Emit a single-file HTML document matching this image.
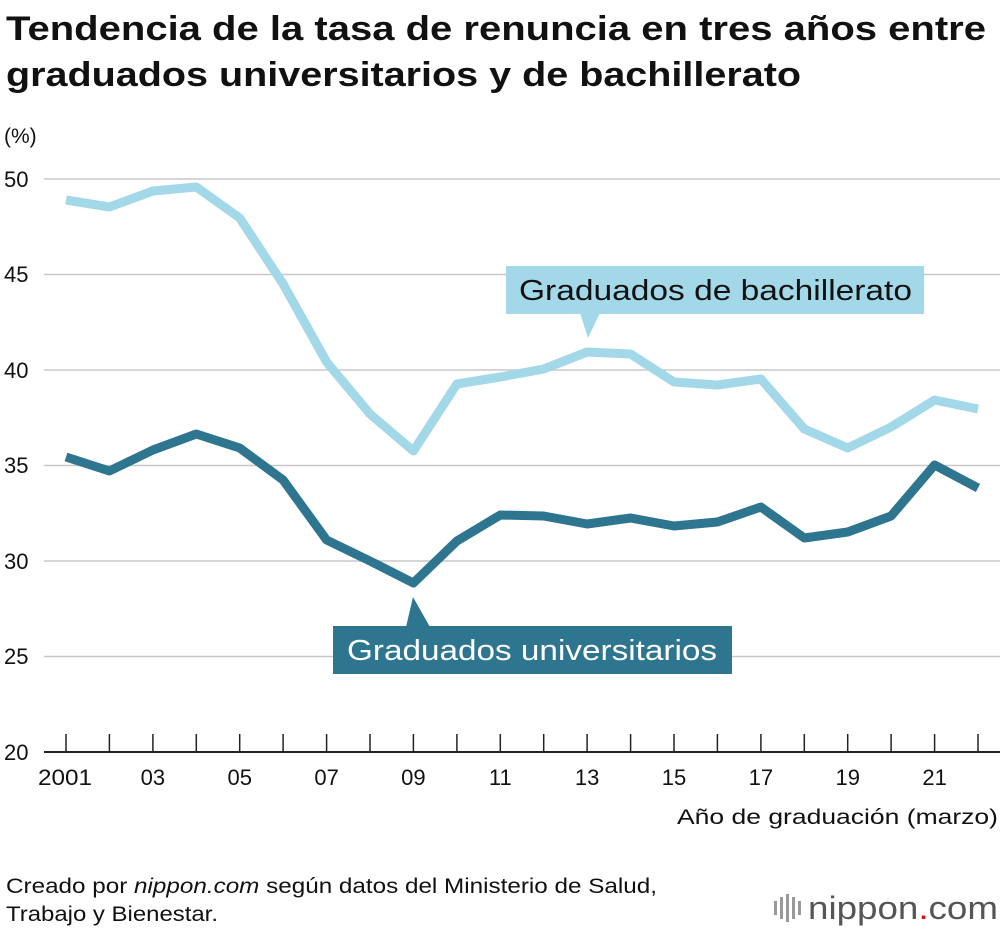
<!DOCTYPE html>
<html><head><meta charset="utf-8"><style>
body{margin:0;background:#fff;font-family:"Liberation Sans",Arial,sans-serif}
</style></head><body>
<svg width="1000" height="930" xmlns="http://www.w3.org/2000/svg" font-family="Liberation Sans, Arial, sans-serif">
<text x="6" y="40" font-size="34" font-weight="bold" fill="#111" textLength="980" lengthAdjust="spacingAndGlyphs">Tendencia de la tasa de renuncia en tres años entre</text>
<text x="6" y="86" font-size="34" font-weight="bold" fill="#111" textLength="795" lengthAdjust="spacingAndGlyphs">graduados universitarios y de bachillerato</text>
<text x="4" y="143" font-size="21" fill="#111">(%)</text>
<g stroke="#c8c8c8" stroke-width="1.5">
<line x1="44" x2="1000" y1="179" y2="179"/><line x1="44" x2="1000" y1="274.5" y2="274.5"/>
<line x1="44" x2="1000" y1="370" y2="370"/><line x1="44" x2="1000" y1="465.5" y2="465.5"/>
<line x1="44" x2="1000" y1="561" y2="561"/><line x1="44" x2="1000" y1="656.5" y2="656.5"/>
</g>
<line x1="44" x2="1000" y1="752" y2="752" stroke="#222" stroke-width="2"/>
<g stroke="#222" stroke-width="1.5">
<line x1="66" x2="66" y1="734" y2="752"/><line x1="109.4" x2="109.4" y1="734" y2="752"/><line x1="152.9" x2="152.9" y1="734" y2="752"/><line x1="196.3" x2="196.3" y1="734" y2="752"/><line x1="239.7" x2="239.7" y1="734" y2="752"/><line x1="283.1" x2="283.1" y1="734" y2="752"/><line x1="326.6" x2="326.6" y1="734" y2="752"/><line x1="370" x2="370" y1="734" y2="752"/><line x1="413.4" x2="413.4" y1="734" y2="752"/><line x1="456.9" x2="456.9" y1="734" y2="752"/><line x1="500.3" x2="500.3" y1="734" y2="752"/><line x1="543.7" x2="543.7" y1="734" y2="752"/><line x1="587.1" x2="587.1" y1="734" y2="752"/><line x1="630.6" x2="630.6" y1="734" y2="752"/><line x1="674" x2="674" y1="734" y2="752"/><line x1="717.4" x2="717.4" y1="734" y2="752"/><line x1="760.9" x2="760.9" y1="734" y2="752"/><line x1="804.3" x2="804.3" y1="734" y2="752"/><line x1="847.7" x2="847.7" y1="734" y2="752"/><line x1="891.1" x2="891.1" y1="734" y2="752"/><line x1="934.6" x2="934.6" y1="734" y2="752"/><line x1="978" x2="978" y1="734" y2="752"/>
</g>
<g font-size="22" fill="#111">
<text x="4" y="187">50</text><text x="4" y="282">45</text><text x="4" y="378">40</text><text x="4" y="473">35</text><text x="4" y="569">30</text><text x="4" y="664">25</text><text x="4" y="760">20</text>
</g>
<g font-size="22" fill="#111" text-anchor="middle">
<text x="65" y="785" textLength="54" lengthAdjust="spacingAndGlyphs">2001</text><text x="152.9" y="785">03</text><text x="239.7" y="785">05</text><text x="326.6" y="785">07</text><text x="413.4" y="785">09</text><text x="500.3" y="785">11</text><text x="587.1" y="785">13</text><text x="674" y="785">15</text><text x="760.9" y="785">17</text><text x="847.7" y="785">19</text><text x="934.6" y="785">21</text>
</g>
<text x="677" y="824" font-size="21" fill="#111" textLength="321" lengthAdjust="spacingAndGlyphs">Año de graduación (marzo)</text>
<polyline fill="none" stroke="#a3d8e9" stroke-width="9" stroke-linejoin="round" points="66,200 109.4,207 152.9,191 196.3,187 239.7,218 283.1,284 326.6,362 370,414 413.4,451 456.9,384 500.3,377 543.7,369 587.1,352 630.6,354 674,382 717.4,385 760.9,379 804.3,429 847.7,448 891.1,427 934.6,400 978,409"/>
<polyline fill="none" stroke="#2e7590" stroke-width="9" stroke-linejoin="round" points="66,457 109.4,471 152.9,450 196.3,434 239.7,448 283.1,480 326.6,540 370,561 413.4,583 456.9,541 500.3,515 543.7,516 587.1,524 630.6,518 674,526 717.4,522 760.9,507 804.3,538 847.7,532 891.1,516 934.6,465 978,488"/>
<rect x="506" y="266" width="418" height="48" fill="#a3d8e9"/>
<polygon points="580,313 600,313 588,338" fill="#a3d8e9"/>
<text x="519" y="300" font-size="29" fill="#111" textLength="393" lengthAdjust="spacingAndGlyphs">Graduados de bachillerato</text>
<rect x="333" y="626" width="399" height="48" fill="#2e7590"/>
<polygon points="413,597 406,627 430,627" fill="#2e7590"/>
<text x="347" y="660" font-size="29" fill="#fff" textLength="370" lengthAdjust="spacingAndGlyphs">Graduados universitarios</text>
<text x="6" y="893" font-size="21" fill="#111" textLength="651" lengthAdjust="spacingAndGlyphs">Creado por <tspan font-style="italic">nippon.com</tspan> según datos del Ministerio de Salud,</text>
<text x="6" y="921" font-size="21" fill="#111" textLength="212" lengthAdjust="spacingAndGlyphs">Trabajo y Bienestar.</text>
<g fill="#999"><rect x="774" y="901" width="3" height="14"/><rect x="780" y="897" width="3" height="22"/><rect x="786" y="894" width="3" height="28"/><rect x="792" y="897" width="3" height="22"/><rect x="798" y="901" width="3" height="14"/></g>
<text x="808" y="919" font-size="32" fill="#555" textLength="190" lengthAdjust="spacingAndGlyphs">nippon<tspan fill="#e60012">.</tspan>com</text>
</svg>
</body></html>
